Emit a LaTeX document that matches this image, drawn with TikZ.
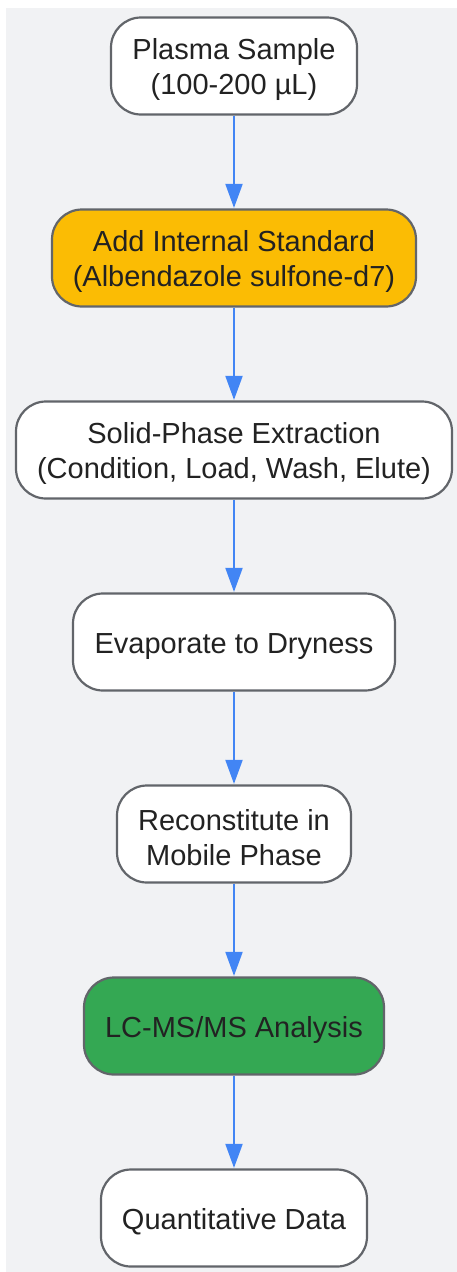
\documentclass[tikz,border=0pt]{standalone}
\usepackage{fontspec}
\setmainfont{Liberation Sans}
\usetikzlibrary{arrows.meta}
\definecolor{bgc}{HTML}{F1F2F4}
\definecolor{edgec}{HTML}{62656A}
\definecolor{arrowc}{HTML}{4285F4}
\definecolor{orangec}{HTML}{FBBC04}
\definecolor{greenc}{HTML}{34A853}
\definecolor{textc}{HTML}{222222}
\newcommand\shiftstrut{\rule{0pt}{28.6pt}}
\tikzset{
  stepbox/.style={draw=edgec, line width=2.2pt, rounded corners=30pt, fill=white,
    minimum height=97pt, align=center, text=textc, inner sep=0pt,
    font=\fontsize{29}{35}\selectfont},
  flow/.style={draw=arrowc, line width=2pt, -{Triangle[length=24pt,width=17pt]}, shorten >=0.5pt}
}
\begin{document}
\begin{tikzpicture}[x=1pt,y=-1pt]
\useasboundingbox (0,0) rectangle (457,1272);
\fill[white] (0,0) rectangle (457,1272);
\fill[bgc] (6,8) rectangle (457,1272);
\node[stepbox, minimum width=246pt] (n1) at (234,66) {\shiftstrut Plasma Sample\\(100-200 µL)};
\node[stepbox, minimum width=364pt, fill=orangec] (n2) at (234,258) {\shiftstrut Add Internal Standard\\(Albendazole sulfone-d7)};
\node[stepbox, minimum width=436pt] (n3) at (234,450) {\shiftstrut Solid-Phase Extraction\\(Condition, Load, Wash, Elute)};
\node[stepbox, minimum width=322pt] (n4) at (234,642) {\shiftstrut Evaporate to Dryness};
\node[stepbox, minimum width=234pt] (n5) at (234,834) {\shiftstrut Reconstitute in\\Mobile Phase};
\node[stepbox, minimum width=300pt, fill=greenc] (n6) at (234,1026) {\shiftstrut LC-MS/MS Analysis};
\node[stepbox, minimum width=266pt] (n7) at (234,1218) {\shiftstrut Quantitative Data};
\draw[flow] (n1) -- (n2);
\draw[flow] (n2) -- (n3);
\draw[flow] (n3) -- (n4);
\draw[flow] (n4) -- (n5);
\draw[flow] (n5) -- (n6);
\draw[flow] (n6) -- (n7);
\end{tikzpicture}
\end{document}
